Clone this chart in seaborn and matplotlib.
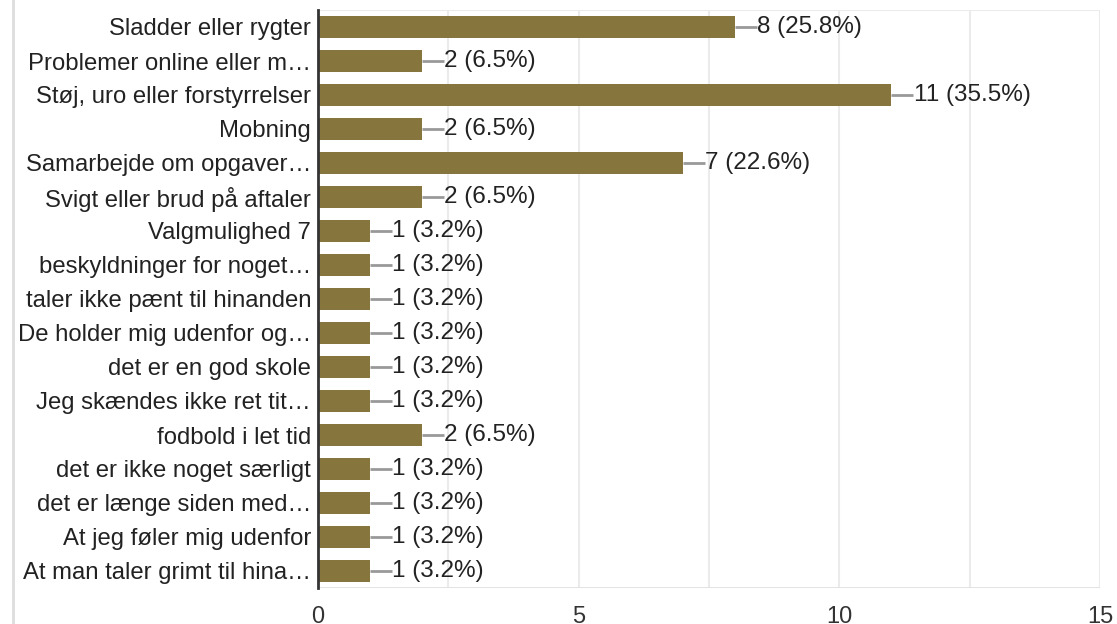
import matplotlib
matplotlib.use("Agg")
import matplotlib.pyplot as plt
import seaborn as sns
import pandas as pd
from matplotlib.lines import Line2D

categories = [
    "Sladder eller rygter",
    "Problemer online eller m…",
    "Støj, uro eller forstyrrelser",
    "Mobning",
    "Samarbejde om opgaver…",
    "Svigt eller brud på aftaler",
    "Valgmulighed 7",
    "beskyldninger for noget…",
    "taler ikke pænt til hinanden",
    "De holder mig udenfor og…",
    "det er en god skole",
    "Jeg skændes ikke ret tit…",
    "fodbold i let tid",
    "det er ikke noget særligt",
    "det er længe siden med…",
    "At jeg føler mig udenfor",
    "At man taler grimt til hina…",
]
counts = [8, 2, 11, 2, 7, 2, 1, 1, 1, 1, 1, 1, 2, 1, 1, 1, 1]
percents = ["25.8%", "6.5%", "35.5%", "6.5%", "22.6%", "6.5%", "3.2%", "3.2%",
            "3.2%", "3.2%", "3.2%", "3.2%", "6.5%", "3.2%", "3.2%", "3.2%", "3.2%"]
x_ticks = [0, 5, 10, 15]

sns.set_theme(style="white")
plt.rcParams["font.family"] = ["Liberation Sans", "DejaVu Sans"]

df = pd.DataFrame({"cat": categories, "count": counts})

fig = plt.figure(figsize=(11.17, 6.24), dpi=100)
ax = fig.add_axes([318 / 1117, 1 - 588 / 624, (1100 - 318) / 1117, (588 - 10) / 624])

sns.barplot(data=df, y="cat", x="count", orient="h", color="#86753c",
            saturation=1, width=0.62, linewidth=0, ax=ax, zorder=3)

ax.set_xlim(0, 15)
ax.set_ylim(len(categories) - 0.5, -0.5)

# grid lines
for gx in [2.5, 5, 7.5, 10, 12.5, 15]:
    ax.axvline(gx, color="#ebebeb", lw=1.5, zorder=0)
ax.axhline(-0.5, color="#ebebeb", lw=1.5, zorder=0)
ax.axhline(len(categories) - 0.5, color="#e0e0e0", lw=2, zorder=1)

for s in ["top", "right", "bottom"]:
    ax.spines[s].set_visible(False)
ax.spines["left"].set_color("#333333")
ax.spines["left"].set_linewidth(2)
ax.spines["left"].set_zorder(5)

# value labels with leader lines
lead = 0.42
for i, (v, p) in enumerate(zip(counts, percents)):
    ax.plot([v, v + lead], [i, i], color="#999999", lw=2, zorder=4,
            solid_capstyle="butt")
    ax.text(v + lead + 0.005, i, f"{v} ({p})", va="center", ha="left",
            fontsize=17.5, color="#222222", zorder=5)

ax.set_xticks(x_ticks)
ax.set_xticklabels([str(t) for t in x_ticks])
ax.tick_params(axis="x", length=0, pad=13, labelsize=17, labelcolor="#333333")
ax.tick_params(axis="y", length=0, pad=5, labelsize=17.2, labelcolor="#222222")
ax.set_xlabel("")
ax.set_ylabel("")

fig.add_artist(Line2D([12.5 / 1117, 12.5 / 1117], [0, 1], color="#dddddd",
                      lw=2, transform=fig.transFigure))

fig.savefig("out.png", dpi=100)
